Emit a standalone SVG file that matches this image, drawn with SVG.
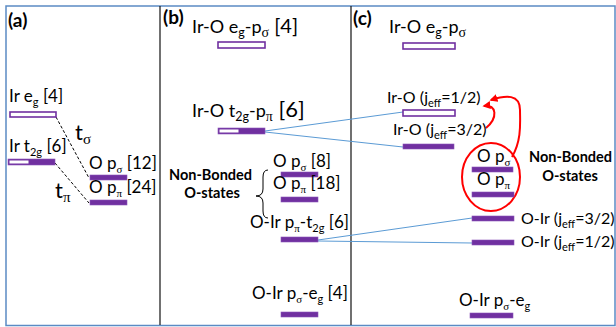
<svg xmlns="http://www.w3.org/2000/svg" width="616" height="327" viewBox="0 0 616 327">
<defs>
<style>
text{font-family:Lato,"Liberation Sans",sans-serif;font-size:17px;fill:#000}
.b{font-weight:bold}
.lab{font-size:19px}
.nb{font-size:14.5px}
.t18{font-size:18px}
.j{font-size:16px}
.g{font-family:"Liberation Serif",serif}
.s{font-size:11px}
.s12{font-size:12.5px}
.g14{font-family:"Liberation Serif",serif;font-size:14px}
.hol{fill:#fff;stroke:#7030a0;stroke-width:1.6}
.fil{fill:#7030a0;stroke:#8a55b8;stroke-width:0.6}
.dash{stroke:#000;stroke-width:1;stroke-dasharray:3 2;fill:none}
.blue{stroke:#5b9bd5;stroke-width:1;fill:none}
.red{stroke:#ff0000;stroke-width:2;fill:none}
</style>
<marker id="ah" viewBox="0 0 10 10" refX="8" refY="5" markerWidth="4" markerHeight="4" orient="auto">
<path d="M0,0 L10,5 L0,10 z" fill="#ff0000"/>
</marker>
</defs>
<rect x="0" y="0" width="616" height="327" fill="#fff"/>
<rect x="6" y="6" width="609" height="319.5" fill="none" stroke="#5b8bc4" stroke-width="1.5"/>
<line x1="160" y1="6" x2="160" y2="325" stroke="#111" stroke-width="1.2"/>
<line x1="351" y1="6" x2="351" y2="325" stroke="#111" stroke-width="1.2"/>

<g id="connectors">
<line class="dash" x1="56" y1="117" x2="89" y2="178"/>
<line class="dash" x1="55" y1="163" x2="89" y2="203"/>
<line class="blue" x1="265" y1="131" x2="403" y2="112"/>
<line class="blue" x1="265" y1="132" x2="403" y2="147"/>
<line class="blue" x1="318" y1="240" x2="472" y2="218"/>
<line class="blue" x1="318" y1="241" x2="472" y2="243"/>
<path class="red" d="M486,128 C498,118 497,104 484,106" marker-end="url(#ah)"/>
<path class="red" d="M512,157 C522,140 520,122 520,110 C520,94 506,95 491,100" marker-end="url(#ah)"/>
</g>

<g id="panel-a">
<text class="b lab" x="8" y="27">(a)</text>
<g id="a-ir-eg"><text x="9" y="102">Ir e<tspan class="s" dy="4">g</tspan><tspan dy="-4"> [4]</tspan></text><rect class="hol" x="10" y="112" width="46" height="5"/></g>
<g id="a-ir-t2g"><text x="9" y="152">Ir t<tspan class="s" dy="4">2g</tspan><tspan dy="-4"> [6]</tspan></text><rect class="fil" x="8" y="159" width="47" height="6"/><rect x="9.5" y="160.5" width="19" height="3" fill="#fff"/></g>
<text x="75" y="140" style="font-size:22px">t<tspan class="g" style="font-size:15px" dy="4">σ</tspan></text>
<text x="55" y="198" style="font-size:22px">t<tspan class="g" style="font-size:15px" dy="4">π</tspan></text>
<g id="a-o-psig"><text x="89" y="169">O p<tspan class="s g" dy="4">σ</tspan><tspan dy="-4"> [12]</tspan></text><rect class="fil" x="90" y="175" width="37" height="5"/></g>
<g id="a-o-ppi"><text x="89" y="193">O p<tspan class="s g" dy="4">π</tspan><tspan dy="-4"> [24]</tspan></text><rect class="fil" x="90" y="200" width="37" height="5"/></g>
</g>

<g id="panel-b">
<text class="b lab" x="163" y="24">(b)</text>
<g id="b-eg-psig"><text class="t18" x="192" y="33">Ir-O e<tspan class="s12" dy="4">g</tspan><tspan dy="-4">-p</tspan><tspan class="g14" dy="4">σ</tspan><tspan dy="-4" style="font-size:20px"> [4]</tspan></text><rect class="hol" x="218" y="42" width="47" height="6"/></g>
<g id="b-t2g-ppi"><text class="t18" x="192" y="117">Ir-O t<tspan class="s12" dy="4">2g</tspan><tspan dy="-4">-p</tspan><tspan class="g14" dy="4">π</tspan><tspan dy="-4" style="font-size:22px"> [6]</tspan></text><rect class="fil" x="218" y="128" width="47" height="6"/><rect x="219.5" y="129.5" width="19" height="3" fill="#fff"/></g>
<g id="b-nonbonded"><text class="b nb" x="169" y="180">Non-Bonded</text><text class="b nb" x="212" y="198" text-anchor="middle">O-states</text>
<path d="M268,170 Q263,170 263,177 L263,189 Q263,196 256,196 Q263,196 263,203 L263,211 Q263,218 268,218" fill="none" stroke="#000" stroke-width="1"/></g>
<g id="b-o-psig"><text x="273" y="167">O p<tspan class="s g" dy="4">σ</tspan><tspan dy="-4"> [8]</tspan></text><rect class="fil" x="281" y="172" width="37" height="5"/></g>
<g id="b-o-ppi"><text x="273" y="189">O p<tspan class="s g" dy="4">π</tspan><tspan dy="-4"> [18]</tspan></text><rect class="fil" x="281" y="197" width="37" height="5"/></g>
<g id="b-oir-ppi-t2g"><text x="250" y="228">O-Ir p<tspan class="s g" dy="4">π</tspan><tspan dy="-4">-t</tspan><tspan class="s" dy="4">2g</tspan><tspan dy="-4"> [6]</tspan></text><rect class="fil" x="281" y="237" width="37" height="5"/></g>
<g id="b-oir-psig-eg"><text x="252" y="299">O-Ir p<tspan class="s g" dy="4">σ</tspan><tspan dy="-4">-e</tspan><tspan class="s" dy="4">g</tspan><tspan dy="-4"> [4]</tspan></text><rect class="fil" x="281" y="312" width="37" height="5"/></g>
</g>

<g id="panel-c">
<text class="b lab" x="353" y="25">(c)</text>
<g id="c-eg-psig"><text class="t18" x="389" y="33">Ir-O e<tspan class="s12" dy="4">g</tspan><tspan dy="-4">-p</tspan><tspan class="g14" dy="4">σ</tspan></text><rect class="hol" x="403" y="43" width="52" height="6"/></g>
<g id="c-iro-half"><text class="j" x="387" y="103">Ir-O (j<tspan class="s" dy="4">eff</tspan><tspan dy="-4">=1/2)</tspan></text><rect class="hol" x="403" y="110" width="52" height="6"/></g>
<g id="c-iro-32"><text class="j" x="393" y="135">Ir-O (j<tspan class="s" dy="4">eff</tspan><tspan dy="-4">=3/2)</tspan></text><rect class="fil" x="403" y="144" width="51" height="5"/></g>
<g id="c-nonbonded">
<ellipse cx="491" cy="177" rx="29" ry="34" fill="none" stroke="#ff0000" stroke-width="2"/>
<text x="477" y="162">O p<tspan class="s g" dy="4">σ</tspan></text><rect class="fil" x="472" y="167" width="41" height="5"/>
<text x="477" y="185">O p<tspan class="s g" dy="4">π</tspan></text><rect class="fil" x="472" y="192" width="42" height="5"/>
<text class="b nb" x="529" y="162">Non-Bonded</text><text class="b nb" x="570" y="181" text-anchor="middle">O-states</text>
</g>
<g id="c-oir-32"><text class="j" x="521" y="224">O-Ir (j<tspan class="s" dy="4">eff</tspan><tspan dy="-4">=3/2)</tspan></text><rect class="fil" x="472" y="216" width="42" height="5"/></g>
<g id="c-oir-half"><text class="j" x="521" y="247">O-Ir (j<tspan class="s" dy="4">eff</tspan><tspan dy="-4">=1/2)</tspan></text><rect class="fil" x="472" y="240" width="42" height="5"/></g>
<g id="c-oir-psig-eg"><text x="459" y="306">O-Ir p<tspan class="s g" dy="4">σ</tspan><tspan dy="-4">-e</tspan><tspan class="s" dy="4">g</tspan></text><rect class="fil" x="470" y="313" width="43" height="5"/></g>
</g>
</svg>
